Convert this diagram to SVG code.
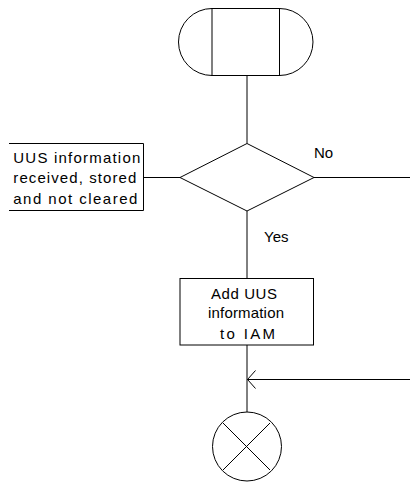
<svg xmlns="http://www.w3.org/2000/svg" width="410" height="485" viewBox="0 0 410 485">
<style>
.s{fill:none;stroke:#000;stroke-width:1}
.b{fill:#fff;stroke:#000;stroke-width:1}
text{font-family:"Liberation Sans",Arial,sans-serif;font-size:15px;fill:#000}
.c{text-anchor:middle}
</style>
<defs>
<marker id="arr" markerWidth="12" markerHeight="22" refX="9" refY="10" orient="auto" markerUnits="userSpaceOnUse">
<path d="M1,1 L9,10 L1,19" fill="none" stroke="#000" stroke-width="1"/>
</marker>
</defs>
<rect width="410" height="485" fill="#fff"/>
<g id="connectors">
<line class="s" x1="247" y1="76" x2="247" y2="143.5"/>
<line class="s" x1="143.5" y1="177.5" x2="180" y2="177.5"/>
<line class="s" x1="314" y1="177.5" x2="410" y2="177.5"/>
<line class="s" x1="247" y1="211" x2="247" y2="278.5"/>
<line class="s" x1="247" y1="345" x2="247" y2="412"/>
<line class="s" x1="410" y1="379.5" x2="247.5" y2="379.5" marker-end="url(#arr)"/>
<text x="314" y="157.5">No</text>
<text x="264" y="241.5">Yes</text>
</g>
<g id="start">
<path class="s" d="M212,8.5 A33.5,33.5 0 0 0 212,75.5"/>
<path class="s" d="M279.5,8.5 A33.5,33.5 0 0 1 279.5,75.5"/>
<rect class="b" x="212" y="8.5" width="67.5" height="67"/>
</g>
<g id="decision">
<polygon class="b" points="247,143.5 314,177.5 247,211 180,177.5"/>
</g>
<g id="uus-received">
<path class="s" d="M9,143.5 H143.5 V210.5 H9"/>
<text x="13.3" y="163" textLength="127" lengthAdjust="spacing">UUS information</text>
<text x="13.3" y="183" textLength="123" lengthAdjust="spacing">received, stored</text>
<text x="13.3" y="203.5" textLength="124" lengthAdjust="spacing">and not cleared</text>
</g>
<g id="add-uus">
<rect class="b" x="180" y="278.5" width="133.5" height="66.5"/>
<text class="c" x="244" y="298.5" textLength="66" lengthAdjust="spacing">Add UUS</text>
<text class="c" x="246" y="318" textLength="76" lengthAdjust="spacing">information</text>
<text class="c" x="247.5" y="338.5" textLength="55" lengthAdjust="spacing">to IAM</text>
</g>
<g id="end">
<circle class="b" cx="247" cy="446.5" r="34.5"/>
<line class="s" x1="223" y1="423" x2="270" y2="470"/>
<line class="s" x1="270" y1="423" x2="223" y2="470"/>
</g>
</svg>
